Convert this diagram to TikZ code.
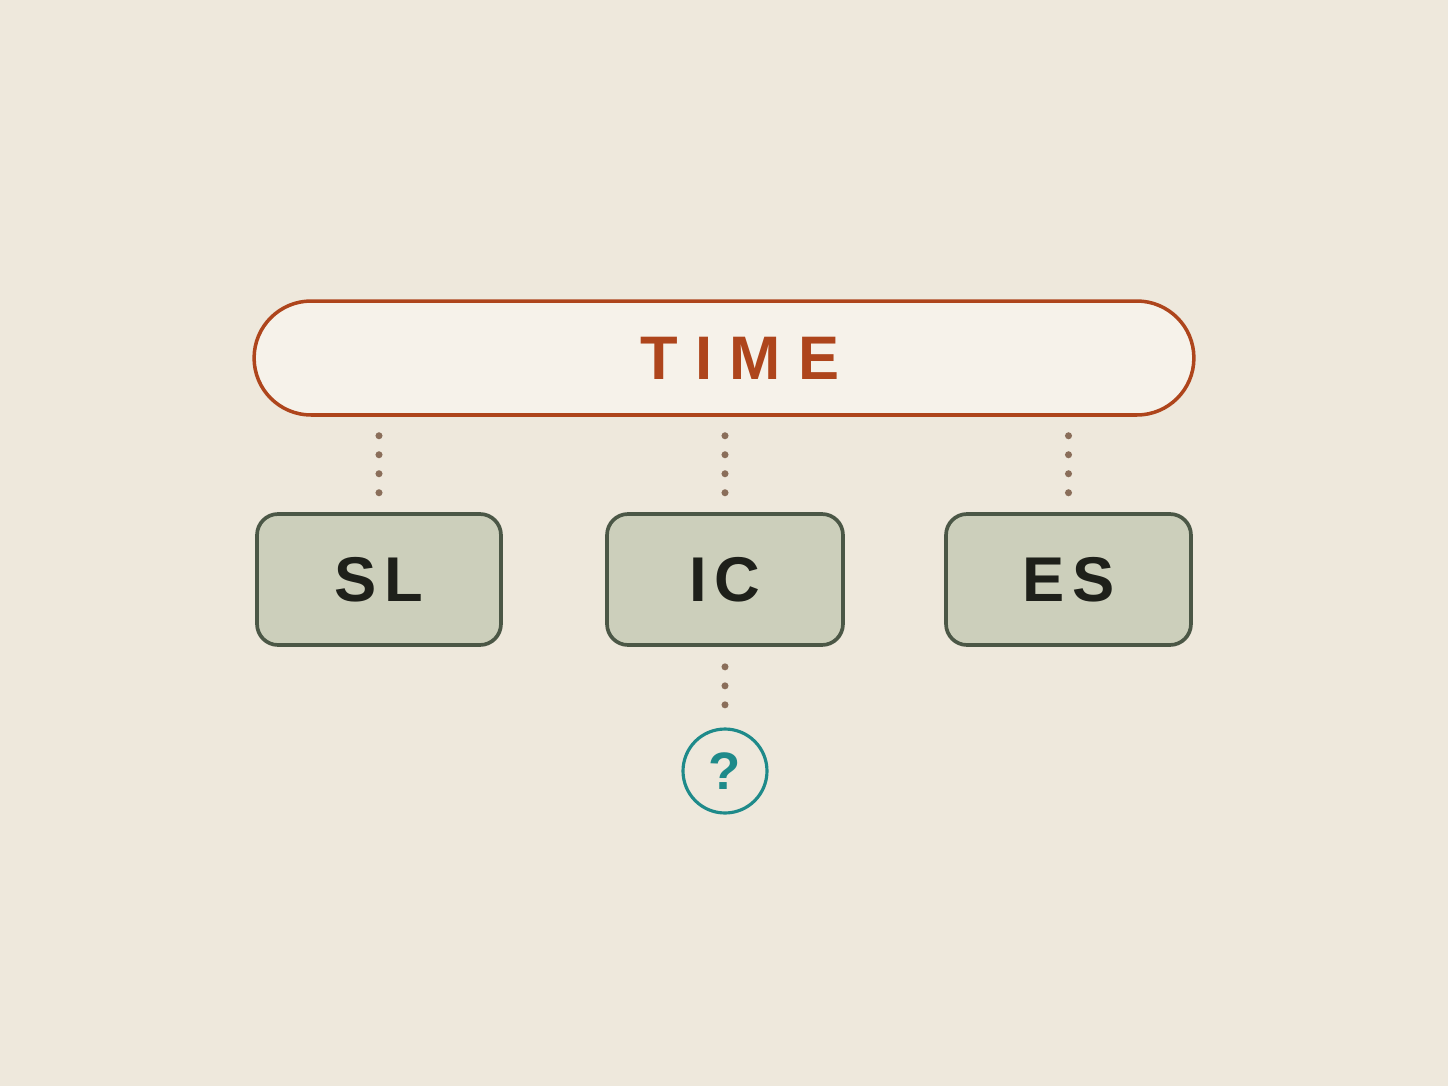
\documentclass[tikz,border=0pt]{standalone}
\usepackage{fontspec}
\setmainfont{Liberation Sans}
\newfontfamily\spacedfont[LetterSpace=28]{Liberation Sans}
\newfontfamily\boxfont[LetterSpace=12]{Liberation Sans}
\usepackage{xcolor}
\usetikzlibrary{positioning, calc}
\definecolor{paper}{HTML}{EEE8DC}
\definecolor{pillfill}{HTML}{F6F2EA}
\definecolor{rust}{HTML}{AE451C}
\definecolor{sage}{HTML}{CCCFBB}
\definecolor{moss}{HTML}{4B5746}
\definecolor{ink}{HTML}{1E201A}
\definecolor{dotbrown}{HTML}{8A6E5A}
\definecolor{teal}{HTML}{1E8A8A}
\tikzset{
    timeline/.style={
        rectangle,
        rounded corners=1.14cm,
        line width=2pt,
        draw=rust,
        fill=pillfill,
        minimum width=18.8cm,
        minimum height=2.28cm,
        text=rust,
        font=\spacedfont\bfseries\fontsize{35}{40}\selectfont,
    },
    facet/.style={
        rectangle,
        rounded corners=0.42cm,
        line width=2.1pt,
        draw=moss,
        fill=sage,
        minimum height=2.62cm,
        text=ink,
        font=\boxfont\bfseries\fontsize{36}{40}\selectfont,
    },
    unknown/.style={
        circle,
        line width=1.8pt,
        draw=teal,
        minimum size=1.68cm,
        inner sep=0pt,
        text=teal,
        font=\bfseries\fontsize{30}{34}\selectfont,
    },
    dots/.style={
        dotbrown,
        line width=4pt,
        line cap=round,
        dash pattern=on 0pt off 0.38cm,
    },
}

\begin{document}
\begin{tikzpicture}[x=0.02cm, y=-0.02cm]
      \fill[paper] (0,0) rectangle (1448,1086);
      \useasboundingbox (0,0) rectangle (1448,1086);

      \node[timeline] (time) at (724,358) {\hspace*{0.64cm}TIME};

      \node[facet, minimum width=4.88cm] (sl) at (379,579.5) {SL};

      \node[facet, minimum width=4.72cm] (ic) at (725,579.5) {IC};

      \node[facet, minimum width=4.9cm] (es) at (1068.5,579.5) {ES};

      \node[unknown] (q) at (725,771) {?};

      % dotted links
      \draw[dots, shorten <=0.38cm, shorten >=0.34cm] (time.south -| sl) -- (sl.north);
      \draw[dots, shorten <=0.38cm, shorten >=0.34cm] (time.south -| ic) -- (ic.north);
      \draw[dots, shorten <=0.38cm, shorten >=0.34cm] (time.south -| es) -- (es.north);
      \draw[dots, shorten <=0.40cm, shorten >=0.38cm] (ic.south) -- (q.north);
    \end{tikzpicture}
\end{document}
